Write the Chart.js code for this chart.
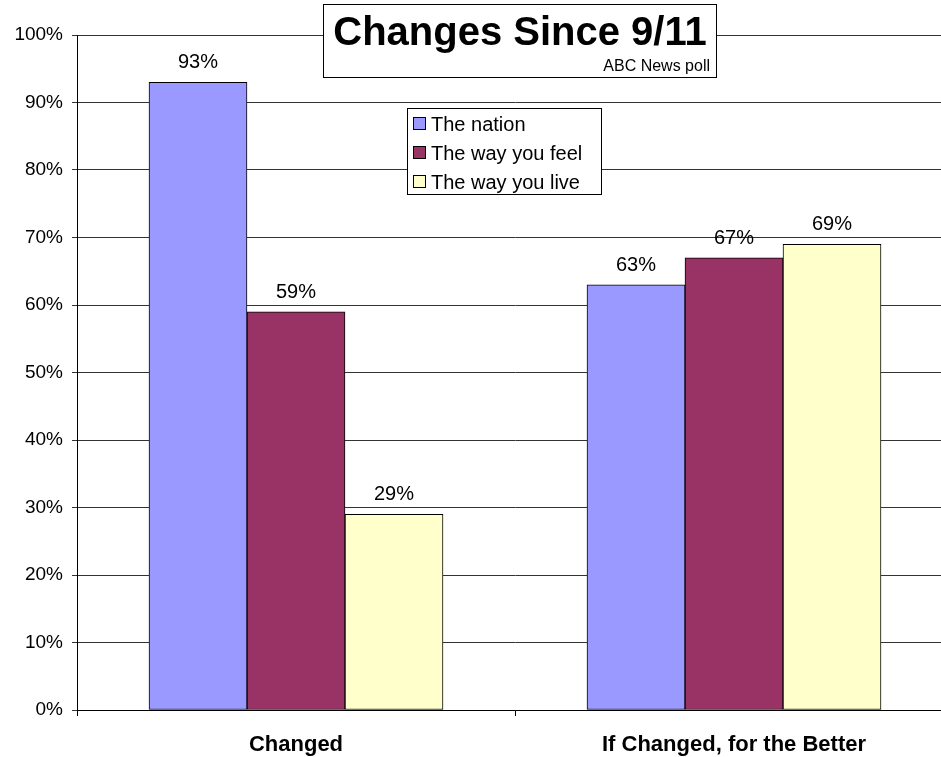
<!DOCTYPE html>
<html>
<head>
<meta charset="utf-8">
<script src="https://cdn.jsdelivr.net/npm/chart.js@4/dist/chart.umd.min.js"></script>
<style>
  html, body { margin: 0; padding: 0; background: #fff; overflow: hidden; }
  #wrap { width: 960px; height: 757px; }
</style>
</head>
<body>
<div id="wrap"><canvas id="grafica" width="960" height="757"></canvas></div>
<script>
// Datos
const categorias = ['Changed', 'If Changed, for the Better'];
const nacion = [93, 63];
const sentir = [59, 67];
const vivir = [29, 69];
const series = ['The nation', 'The way you feel', 'The way you live'];
const ticksY = [0, 10, 20, 30, 40, 50, 60, 70, 80, 90, 100];

const FUENTE = '"Liberation Sans", Arial, sans-serif';

// Titulo con caja
const titulo = {
    id: 'titulo',
    afterDraw(chart) {
        const ctx = chart.ctx;
        ctx.save();
        ctx.fillStyle = '#fff';
        ctx.fillRect(324, 4, 392, 73);
        ctx.strokeStyle = '#000';
        ctx.lineWidth = 1;
        ctx.strokeRect(323.5, 4.5, 393, 73);
        ctx.fillStyle = '#000';
        ctx.textAlign = 'center';
        ctx.textBaseline = 'alphabetic';
        ctx.font = 'bold 40px ' + FUENTE;
        ctx.fillText('Changes Since 9/11', 520, 45);
        ctx.textAlign = 'right';
        ctx.font = '16px ' + FUENTE;
        ctx.fillText('ABC News poll', 710, 71);
        ctx.restore();
    }
};

// Leyenda dentro del area
const leyenda = {
    id: 'leyenda',
    afterDraw(chart) {
        const ctx = chart.ctx;
        ctx.save();
        ctx.fillStyle = '#fff';
        ctx.fillRect(407, 108, 194, 86);
        ctx.strokeStyle = '#000';
        ctx.lineWidth = 1;
        ctx.strokeRect(407.5, 108.5, 194, 86);
        ctx.font = '20px ' + FUENTE;
        ctx.textBaseline = 'middle';
        chart.data.datasets.forEach((ds, i) => {
            const y = 124 + i * 29;
            ctx.fillStyle = ds.backgroundColor;
            ctx.fillRect(413, y - 6, 12, 12);
            ctx.strokeRect(413.5, y - 6.5, 12, 12);
            ctx.fillStyle = '#000';
            ctx.fillText(ds.label, 431, y + 1);
        });
        ctx.restore();
    }
};

// Etiquetas de valores
const etiquetas = {
    id: 'etiquetas',
    afterDatasetsDraw(chart) {
        const ctx = chart.ctx;
        ctx.save();
        ctx.fillStyle = '#000';
        ctx.font = '20px ' + FUENTE;
        ctx.textAlign = 'center';
        ctx.textBaseline = 'alphabetic';
        chart.data.datasets.forEach((ds, i) => {
            chart.getDatasetMeta(i).data.forEach((bar, j) => {
                ctx.fillText(ds.data[j] + '%', bar.x, bar.y - 14);
            });
        });
        ctx.restore();
    }
};

const ctxGrafica = document.getElementById('grafica').getContext('2d');
const grafica = new Chart(ctxGrafica, {
    type: 'bar',
    data: {
        labels: categorias,
        datasets: [{
            label: series[0],
            data: nacion,
            backgroundColor: '#9999FF',
            borderColor: '#000',
            borderWidth: 1
        }, {
            label: series[1],
            data: sentir,
            backgroundColor: '#993366',
            borderColor: '#000',
            borderWidth: 1
        }, {
            label: series[2],
            data: vivir,
            backgroundColor: '#FFFFCC',
            borderColor: '#000',
            borderWidth: 1
        }]
    },
    options: {
        responsive: false,
        animation: false,
        devicePixelRatio: 1,
        layout: { padding: { top: 35, right: 7, left: 0, bottom: 0 } },
        barThickness: 98,
        borderSkipped: false,
        plugins: {
            legend: { display: false },
            tooltip: { enabled: false }
        },
        scales: {
            x: {
                grid: { display: true, drawOnChartArea: false, offset: true, color: '#000', tickLength: 6 },
                border: { color: '#000', width: 1 },
                ticks: { color: '#000', font: { family: FUENTE, size: 22, weight: 'bold' }, padding: 16 },
                afterFit(scale) { scale.height = 47; }
            },
            y: {
                min: 0,
                max: 100,
                afterBuildTicks(scale) { scale.ticks = ticksY.map(v => ({ value: v })); },
                grid: { color: '#333', tickLength: 5 },
                border: { color: '#000', width: 1 },
                ticks: {
                    color: '#000',
                    font: { family: FUENTE, size: 19 },
                    padding: 9,
                    callback: v => v + '%'
                },
                afterFit(scale) { scale.width = 77; }
            }
        }
    },
    plugins: [etiquetas, titulo, leyenda]
});
</script>
</body>
</html>
